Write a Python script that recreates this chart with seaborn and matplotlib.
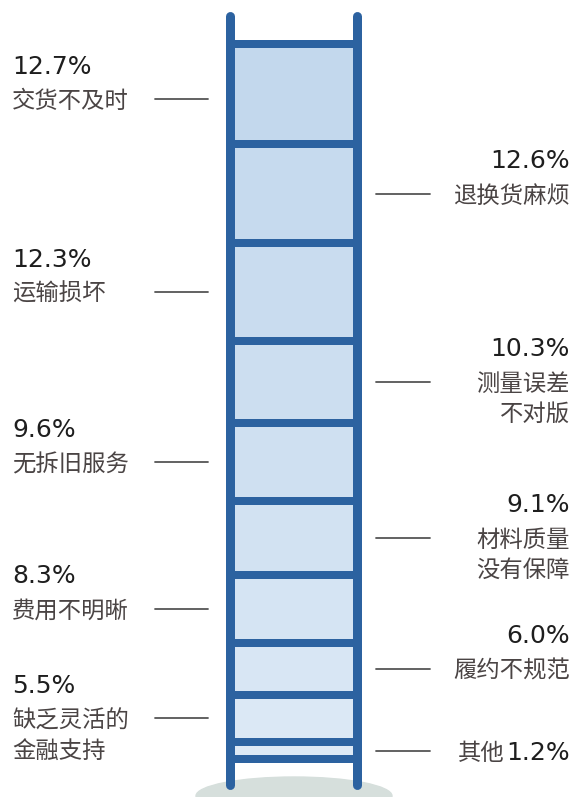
import matplotlib
matplotlib.use("Agg")
import matplotlib.pyplot as plt
import seaborn as sns
import numpy as np
from matplotlib.patches import Ellipse
from matplotlib.colors import to_rgb

# ---- data (top to bottom on the ladder) ----
labels = [
    "交货不及时", "退换货麻烦", "运输损坏", "测量误差\n不对版", "无拆旧服务",
    "材料质量\n没有保障", "费用不明晰", "履约不规范", "缺乏灵活的\n金融支持", "其他",
]
values = [12.7, 12.6, 12.3, 10.3, 9.6, 9.1, 8.3, 6.0, 5.5, 1.2]
sides = ["left", "right", "left", "right", "left", "right", "left", "right", "left", "right"]

sns.set_theme(style="white")
plt.rcParams["font.family"] = ["Noto Sans CJK SC", "DejaVu Sans"]

W, H = 577, 797
fig = plt.figure(figsize=(W / 100, H / 100), dpi=100)
ax = fig.add_axes([0, 0, 1, 1])
ax.set_xlim(0, W)
ax.set_ylim(H, 0)
ax.axis("off")

PX = 72 / 100  # points per pixel
rail_color = "#2c62a0"
left_rail, right_rail = 230, 357
rail_w = 9
k = 7.25          # pixels per percent
rung_t = 8
top_rung = 44

# shadow
ax.add_patch(Ellipse((294, 796), 196, 38, color="#d6dfdc", zorder=0))

# stacked segments
heights = np.array(values) * k
tops = []
y = top_rung + rung_t / 2
for h in heights:
    tops.append(y)
    y += h + rung_t
tops = np.array(tops)
centers = tops + heights / 2

c_top = np.array(to_rgb("#c3d8ed"))
c_bot = np.array(to_rgb("#deeaf6"))
cols = [tuple(c_top + (c_bot - c_top) * i / (len(values) - 1)) for i in range(len(values))]

fill_x0 = left_rail + rail_w / 2
fill_x1 = right_rail - rail_w / 2
ax.bar([(fill_x0 + fill_x1) / 2] * len(values), heights, bottom=tops,
       width=fill_x1 - fill_x0, color=cols, linewidth=0, zorder=1)

# rungs
rung_y = list(tops - rung_t / 2) + [tops[-1] + heights[-1] + rung_t / 2]
for ry in rung_y:
    ax.plot([left_rail, right_rail], [ry, ry], color=rail_color,
            lw=rung_t * PX, solid_capstyle="butt", zorder=2)

# rails
for rx in (left_rail, right_rail):
    ax.plot([rx, rx], [16, 785], color=rail_color, lw=rail_w * PX,
            solid_capstyle="round", zorder=3)

pct_font = dict(family=["DejaVu Sans"], fontsize=18, color="#1e1e1e")
cn_font = dict(family=["Noto Sans CJK SC", "DejaVu Sans"], fontsize=16.8,
               color="#4a4444", fontweight="medium")
line_kw = dict(color="#555555", lw=1.3, zorder=2)

fig.canvas.draw()
renderer = fig.canvas.get_renderer()

for i, (lab, val, side, cy) in enumerate(zip(labels, values, sides, centers)):
    pct = f"{val:.1f}%"
    if i == 0:
        cy += 5
    if side == "left":
        ax.plot([155, 208], [cy, cy], **line_kw)
        ax.text(12, cy - 35, pct, ha="left", va="center_baseline", **pct_font)
        for j, ln in enumerate(lab.split("\n")):
            ax.text(12, cy + j * 30, ln, ha="left", va="center_baseline", **cn_font)
    else:
        ax.plot([376, 430], [cy, cy], **line_kw)
        if lab == "其他":
            t = ax.text(570, cy, pct, ha="right", va="center_baseline", **pct_font)
            bb = t.get_window_extent(renderer=renderer)
            x_left = bb.x0  # display px, same as data x here
            ax.text(x_left - 2, cy, lab, ha="right", va="center_baseline", **cn_font)
        else:
            ax.text(570, cy - 35, pct, ha="right", va="center_baseline", **pct_font)
            for j, ln in enumerate(lab.split("\n")):
                ax.text(570, cy + j * 30, ln, ha="right", va="center_baseline", **cn_font)

fig.savefig("out.png", dpi=100, facecolor="white")
